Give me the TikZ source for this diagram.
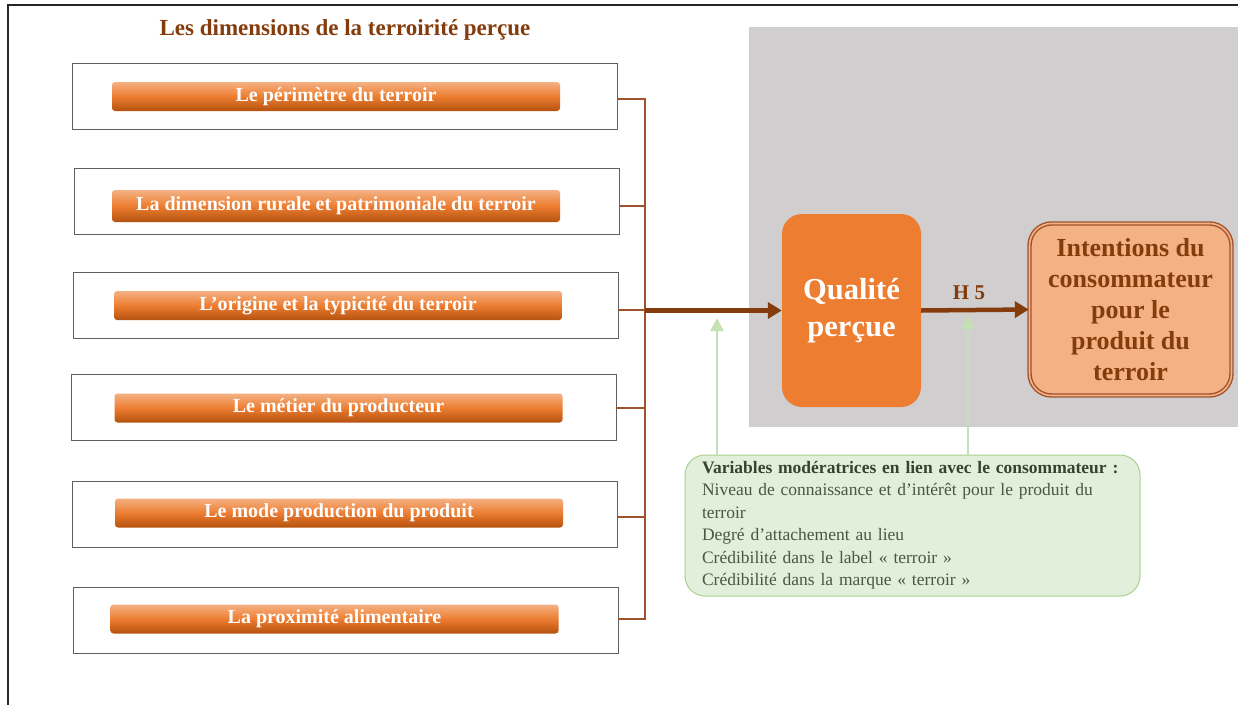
\documentclass[tikz,border=0pt]{standalone}
\usepackage{fontspec}
\setmainfont{Liberation Serif}
\usepackage{xcolor}
\usepackage{tikz}
\usetikzlibrary{arrows.meta,positioning,calc}
\definecolor{brundark}{HTML}{843C0C}
\definecolor{brunlink}{HTML}{A0522D}
\definecolor{barlight}{HTML}{F4B183}
\definecolor{barmid}{HTML}{ED7D31}
\definecolor{bardark}{HTML}{B4520E}
\definecolor{orpale}{HTML}{F4B183}
\definecolor{panelgray}{HTML}{D0CECE}
\definecolor{vertfond}{HTML}{E2EFDA}
\definecolor{vertbord}{HTML}{A9D18E}
\definecolor{vertfleche}{HTML}{C5E0B4}
\definecolor{verttexte}{HTML}{4A5840}

\begin{document}
\begin{tikzpicture}[x=1pt, y=-1pt,
  dimbox/.style={rectangle, draw=gray!75!black, fill=white, line width=0.9pt,
                 minimum width=545pt, minimum height=66pt},
  bar/.style={rectangle, rounded corners=3pt, top color=barlight, bottom color=bardark,
              middle color=barmid, minimum width=448pt, minimum height=29pt, inner sep=0pt,
              text=white, font=\bfseries\fontsize{20}{22}\selectfont},
  qual/.style={rectangle, rounded corners=20pt, fill=barmid, minimum width=139pt,
               minimum height=193pt, align=center, text=white,
               font=\bfseries\fontsize{30.5}{37}\selectfont},
  intent/.style={rectangle, rounded corners=22pt, fill=orpale, draw=brunlink,
                 double=orpale, double distance=1.6pt, line width=1.4pt,
                 minimum width=202pt, minimum height=172pt, align=center, text=brundark,
                 font=\bfseries\fontsize{26}{31}\selectfont},
  moder/.style={rectangle, rounded corners=20pt, fill=vertfond, draw=vertbord, line width=1pt,
                minimum width=455pt, minimum height=141pt, text width=421pt,
                inner xsep=17pt, align=left, text=verttexte,
                font=\fontsize{17.5}{22.5}\selectfont},
  link/.style={draw=brunlink, line width=1.6pt},
  arrmain/.style={-{Triangle[length=14pt,width=16pt]}, draw=brundark, line width=4.5pt},
  arrvert/.style={-{Triangle[length=13pt,width=13pt]}, draw=vertfleche, line width=2.5pt},
  lbl/.style={text=brundark, font=\bfseries\fontsize{21}{24}\selectfont}
]
\useasboundingbox (0,0) rectangle (1238,704);

% cadre et fond
\draw[gray!30!black, line width=1.2pt] (8,710) -- (8,5) -- (1245,5);
\fill[panelgray] (749,27) rectangle (1245,427);

% titre
\node[text=brundark, font=\bfseries\fontsize{23}{26}\selectfont] (titre) at (345,30)
  {Les dimensions de la terroirité perçue};

% Dimensions
\node[dimbox] (b1) at (344.5,96)  {};
\node[dimbox] (b2) at (347,201.5) {};
\node[dimbox] (b3) at (345.5,305) {};
\node[dimbox] (b4) at (343.5,407.5) {};
\node[dimbox] (b5) at (345,514.5) {};
\node[dimbox] (b6) at (345.5,620) {};

\node[bar] (r1) at (336,96.5)  {Le périmètre du terroir};
\node[bar, minimum height=32pt] (r2) at (336,206) {La dimension rurale et patrimoniale du terroir};
\node[bar] (r3) at (338,305.5) {L’origine et la typicité du terroir};
\node[bar] (r4) at (338.5,408) {Le métier du producteur};
\node[bar] (r5) at (339,513)   {Le mode production du produit};
\node[bar] (r6) at (334.5,619) {La proximité alimentaire};

% Qualite et intentions
\node[qual] (q) at (851.5,310.5) {Qualité\\perçue};
\node[intent] (int) at (1130.5,309.5)
  {Intentions du\\consommateur\\pour le\\produit du\\terroir};

% Variables moderatrices
\node[moder] (mod) at (912.5,525.5)
  {\textbf{\color{verttexte!75!black}Variables modératrices en lien avec le consommateur :}\\
   Niveau de connaissance et d’intérêt pour le produit du\\
   terroir\\
   Degré d’attachement au lieu\\
   Crédibilité dans le label «~terroir~»\\
   Crédibilité dans la marque «~terroir~»};

% Connecteurs
\coordinate (jn) at (q.west -| 645,0);
\draw[link] (b1.east |- 0,99) -- (645,99) -- (645,619) -- (b6.east |- 0,619);
\draw[link] (b2.east |- 0,206) -- (645,206);
\draw[link] (b3.east |- 0,310) -- (645,310);
\draw[link] (b4.east |- 0,408) -- (645,408);
\draw[link] (b5.east |- 0,517) -- (645,517);

\draw[arrmain] (jn) -- (q.west);
\draw[arrmain] (q.east) -- node[above=5pt, xshift=-6pt, lbl] (h5) {H 5} (int.west);

\coordinate (m1) at (717,318);
\coordinate (m2) at (968,316);
\draw[arrvert] (mod.north -| m1) -- (m1);
\draw[arrvert] (mod.north -| m2) -- (m2);
\end{tikzpicture}
\end{document}
